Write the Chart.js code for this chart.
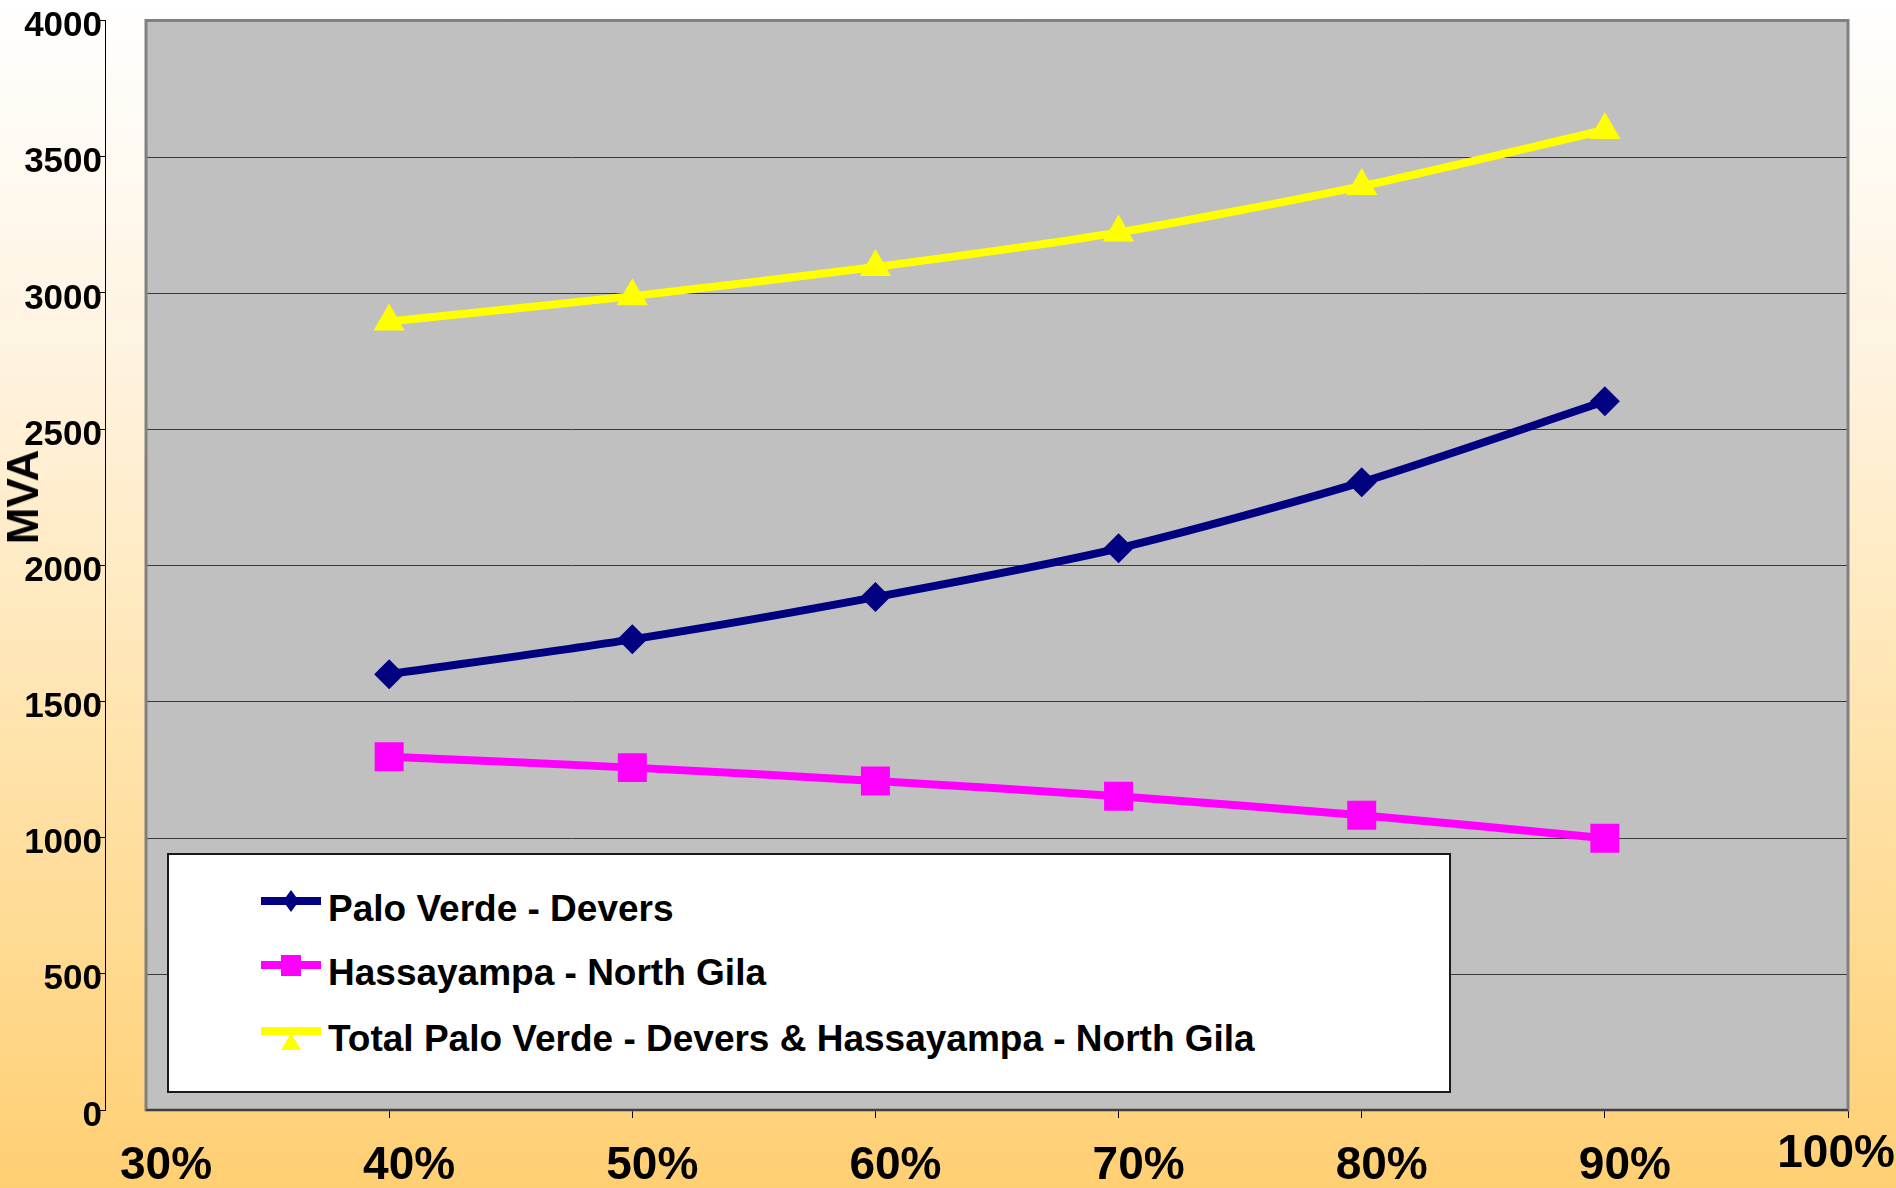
<!DOCTYPE html>
<html>
<head>
<meta charset="utf-8">
<script src="https://cdn.jsdelivr.net/npm/chart.js@4.4.0/dist/chart.umd.min.js"></script>
<style>
    html, body { margin: 0; padding: 0; }
    body {
        width: 1896px; height: 1188px; overflow: hidden; position: relative;
        background: linear-gradient(to bottom, #ffffff 0%, #fff3e0 30%, #ffe2a8 65%, #ffcf73 100%);
        font-family: "Liberation Sans", Arial, sans-serif;
    }
    #chart-wrap { position: absolute; left: 0; top: 0; width: 1896px; height: 1188px; }
    #y-title {
        position: absolute; left: 23px; top: 497px;
        transform: translate(-50%, -50%) rotate(-90deg);
        font-weight: bold; font-size: 44px; color: #000; white-space: nowrap;
    }
    #legend {
        position: absolute; left: 167px; top: 853px; width: 1280px; height: 236px;
        background: #fff; border: 2px solid #1a1a1a;
    }
    .legend-row { position: absolute; left: 0; height: 50px; width: 100%; }
    .legend-row canvas { position: absolute; left: 92px; top: 0; }
    .legend-row span {
        position: absolute; left: 159px; top: 0; line-height: 50px;
        font-weight: bold; font-size: 37px; color: #000; white-space: nowrap;
    }
</style>
</head>
<body>
<div id="chart-wrap"><canvas id="mva-chart"></canvas></div>
<div id="y-title">MVA</div>
<div id="legend"></div>

<script>
// 数据
const loadLevels = [40, 50, 60, 70, 80, 90];
const xTickValues = [30, 40, 50, 60, 70, 80, 90, 100];
const yTickValues = [0, 500, 1000, 1500, 2000, 2500, 3000, 3500, 4000];
const seriesNames = [
    'Palo Verde - Devers',
    'Hassayampa - North Gila',
    'Total Palo Verde - Devers & Hassayampa - North Gila'
];
const paloVerdeDevers = [1600, 1728, 1883, 2062, 2305, 2602];
const hassayampaNorthGila = [1297, 1257, 1208, 1152, 1082, 998];
const totalFlow = [2895, 2988, 3095, 3222, 3392, 3598];

const seriesColors = ['#000080', '#ff00ff', '#ffff00'];
const seriesPoints = ['rectRot', 'rect', 'triangle'];
const seriesRadius = [15, 20.5, 18];

Chart.defaults.font.family = '"Liberation Sans", Arial, sans-serif';

function toPoints(values) {
    return values.map((v, i) => ({ x: loadLevels[i], y: v }));
}

// 灰色绘图区 + 网格线
const plotAreaPlugin = {
    id: 'plotArea',
    beforeDatasetsDraw(chart) {
        const { ctx, scales: { x, y } } = chart;
        const left = x.getPixelForValue(xTickValues[0]);
        const right = x.getPixelForValue(xTickValues[xTickValues.length - 1]);
        const top = y.getPixelForValue(4000);
        const bottom = y.getPixelForValue(0);
        ctx.save();
        ctx.fillStyle = '#c0c0c0';
        ctx.fillRect(left, top, right - left, bottom - top);
        ctx.strokeStyle = '#3a3a3a';
        ctx.lineWidth = 1;
        yTickValues.forEach(v => {
            const py = Math.round(y.getPixelForValue(v)) + 0.5;
            ctx.beginPath();
            ctx.moveTo(left, py);
            ctx.lineTo(right, py);
            ctx.stroke();
        });
        ctx.strokeStyle = '#808080';
        ctx.lineWidth = 3;
        ctx.strokeRect(left, top, right - left, bottom - top);
        ctx.strokeStyle = '#404040';
        ctx.lineWidth = 2;
        ctx.beginPath();
        ctx.moveTo(left, bottom);
        ctx.lineTo(right, bottom);
        ctx.stroke();
        ctx.restore();
    }
};

const mvaChart = new Chart(document.getElementById('mva-chart'), {
    type: 'line',
    data: {
        datasets: [paloVerdeDevers, hassayampaNorthGila, totalFlow].map((vals, i) => ({
            label: seriesNames[i],
            data: toPoints(vals),
            borderColor: seriesColors[i],
            backgroundColor: seriesColors[i],
            borderWidth: 8,
            tension: 0.25,
            pointStyle: seriesPoints[i],
            pointRadius: seriesRadius[i],
            pointBorderWidth: 0,
            pointBackgroundColor: seriesColors[i]
        }))
    },
    options: {
        responsive: true,
        maintainAspectRatio: false,
        animation: false,
        layout: { padding: { top: 15, right: 48, bottom: 0, left: 0 } },
        plugins: {
            legend: { display: false },
            tooltip: { enabled: false }
        },
        scales: {
            x: {
                type: 'linear',
                min: 28.313,
                max: 100,
                afterBuildTicks: scale => { scale.ticks = xTickValues.map(v => ({ value: v })); },
                afterFit: scale => {
                    scale.height = 78;
                    scale.paddingLeft = 0; scale.paddingRight = 0;
                },
                grid: {
                    drawOnChartArea: false,
                    tickLength: 8,
                    tickColor: ctx => (ctx.index === 0 ? 'rgba(0,0,0,0)' : '#000')
                },
                border: { display: false },
                ticks: {
                    color: '#000',
                    padding: 21,
                    labelOffset: 20,
                    maxRotation: 0,
                    autoSkip: false,
                    font: ctx => ({
                        size: 46, weight: 'bold',
                        lineHeight: ctx.index === xTickValues.length - 1 ? 0.67 : 1.2
                    }),
                    callback: (v, i) => (i === xTickValues.length - 1 ? v + '%     ' : v + '%')
                }
            },
            y: {
                min: 0,
                max: 4000,
                afterBuildTicks: scale => { scale.ticks = yTickValues.map(v => ({ value: v })); },
                afterFit: scale => {
                    scale.width = 105;
                    scale.paddingTop = 0; scale.paddingBottom = 0;
                },
                grid: { drawOnChartArea: false, tickLength: 8, tickColor: '#000' },
                border: { display: true, color: '#000', width: 1 },
                ticks: {
                    color: '#000',
                    padding: -5,
                    labelOffset: 6,
                    font: { size: 35, weight: 'bold', lineHeight: 0.8 },
                    callback: v => String(v)
                }
            }
        }
    },
    plugins: [plotAreaPlugin]
});

// 图例
function drawSymbol(canvas, style, color) {
    const c = canvas.getContext('2d');
    const ly = 17;
    c.fillStyle = color;
    c.fillRect(0, ly - 4, 60, 8);
    c.beginPath();
    if (style === 'rectRot') {
        c.moveTo(30, ly - 11); c.lineTo(38, ly); c.lineTo(30, ly + 11); c.lineTo(22, ly);
    } else if (style === 'rect') {
        c.rect(20, ly - 10, 20, 21);
    } else {
        c.moveTo(30, ly + 2); c.lineTo(40, ly + 19); c.lineTo(20, ly + 19);
    }
    c.closePath();
    c.fill();
}

function buildLegend(chart) {
    const box = document.getElementById('legend');
    const centers = [54, 118, 184];
    chart.data.datasets.forEach((ds, i) => {
        const row = document.createElement('div');
        row.className = 'legend-row';
        row.style.top = (centers[i] - 25) + 'px';
        const cv = document.createElement('canvas');
        cv.width = 60; cv.height = 50;
        drawSymbol(cv, ds.pointStyle, ds.borderColor);
        const txt = document.createElement('span');
        txt.textContent = ds.label;
        row.appendChild(cv);
        row.appendChild(txt);
        box.appendChild(row);
    });
}
buildLegend(mvaChart);
</script>
</body>
</html>
